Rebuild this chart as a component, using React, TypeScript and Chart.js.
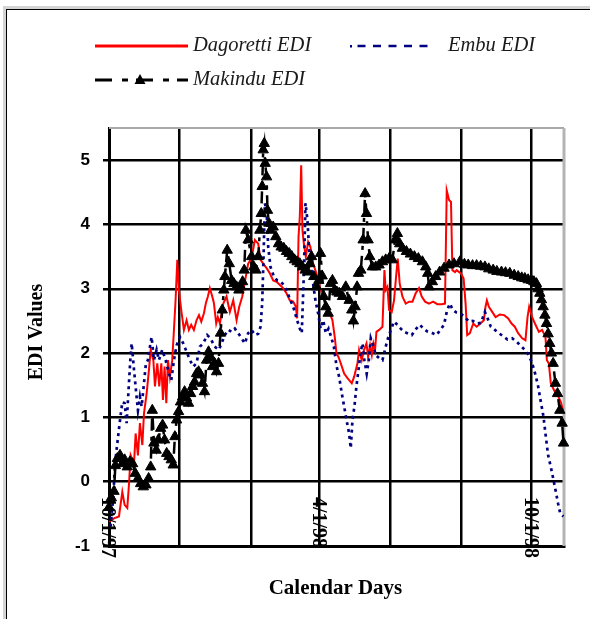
import React, { useEffect, useRef } from 'react';
import { Chart, registerables } from 'chart.js';

Chart.register(...registerables);

// ---- Data (days after 10/1/97, EDI value) ----
const dagorettiDays = [0, 4.3, 8.6, 11.5, 13.5, 15.8, 17.3, 18.7, 21.6, 23, 25, 26.7, 28.8, 30.2, 32.5, 34.5, 36, 38.3, 39.7, 41.7, 43.4, 45.2, 46.6, 48, 49.5, 50.9, 52.6, 54.6, 56.1, 57.5, 59, 60.4, 62.4, 64.7, 67, 69, 71, 73.3, 75.6, 77.7, 79.7, 82, 83.7, 85.4, 87.1, 89.2, 90.6, 92.6, 94, 95.8, 98.7, 101.5, 104.4, 107.3, 110.2, 112.5, 115.1, 117.4, 120.2, 123.1, 126, 128.9, 130.9, 133.2, 136.1, 138.9, 141.8, 144.7, 147.6, 150.4, 153.3, 156.2, 159.1, 161.4, 162.5, 163.7, 164.8, 166, 167.1, 168.3, 170, 172, 174, 176.3, 179.2, 182.1, 185, 187.8, 190.7, 193, 195, 196.5, 198.2, 200.2, 203.1, 206, 209.7, 211.7, 214.6, 216, 218.3, 220.3, 222.4, 223.8, 225.5, 227, 228.4, 229.8, 231, 233.3, 236.2, 237.9, 239, 240.5, 241.9, 244.2, 246.2, 248.2, 249.4, 251.1, 253.4, 256.3, 259.2, 262.1, 264.9, 267.8, 270.1, 273, 276.4, 279.9, 283.6, 287.4, 290.2, 291.7, 293.7, 295.4, 296.6, 298.9, 300.2, 304, 306.3, 308, 309.4, 311.7, 314.6, 317.5, 320.9, 323.8, 325.2, 326.4, 328.1, 331, 333.9, 337.6, 341.3, 344.8, 347.7, 350.5, 353.4, 356.9, 359.7, 361.5, 362.9, 365.5, 368.4, 371.3, 374.1, 377, 378.2, 379.9, 381.6, 384.5, 387.4, 390.2, 392.5];
const dagorettiValues = [-0.62, -0.57, -0.54, -0.16, -0.36, -0.41, -0.03, 0.41, 0.28, 0.75, 0.41, 0.91, 0.57, 1.06, 1.37, 1.74, 2.05, 1.89, 1.48, 1.84, 1.48, 1.84, 1.27, 1.79, 1.22, 1.89, 1.63, 1.89, 2.36, 2.82, 3.45, 2.98, 2.67, 2.36, 2.51, 2.36, 2.44, 2.36, 2.51, 2.59, 2.49, 2.62, 2.78, 2.88, 3.01, 2.88, 2.78, 2.46, 2.56, 2.46, 2.77, 2.88, 2.64, 2.82, 2.51, 2.72, 2.88, 3.11, 3.39, 3.47, 3.76, 3.70, 3.45, 3.39, 3.32, 3.24, 3.13, 3.11, 3.06, 3.01, 2.93, 2.82, 2.80, 2.72, 2.54, 3.81, 4.12, 4.92, 3.91, 3.70, 3.50, 3.73, 3.65, 3.39, 3.24, 3.03, 2.88, 2.72, 2.62, 2.51, 2.25, 1.99, 1.94, 1.84, 1.68, 1.61, 1.53, 1.63, 1.84, 2.05, 1.89, 2.05, 2.15, 1.94, 2.12, 1.97, 2.15, 2.05, 2.33, 2.36, 2.41, 3.29, 2.98, 3.03, 2.67, 2.64, 2.82, 3.24, 3.47, 3.08, 2.88, 2.77, 2.80, 2.80, 2.93, 3.01, 2.88, 2.80, 2.77, 2.80, 2.76, 2.76, 2.77, 4.53, 4.38, 4.35, 3.29, 3.26, 3.29, 3.24, 3.16, 2.77, 2.28, 2.31, 2.46, 2.41, 2.46, 2.51, 2.72, 2.82, 2.72, 2.64, 2.56, 2.60, 2.59, 2.54, 2.46, 2.41, 2.31, 2.23, 2.20, 2.56, 2.72, 2.56, 2.44, 2.33, 2.36, 2.25, 1.89, 1.84, 1.53, 1.42, 1.35, 1.24, 1.09];

const embuDays = [1.4, 3.7, 5.2, 7.2, 9.2, 11.5, 13.5, 15.2, 16.7, 18.4, 19.6, 21.6, 23.3, 25, 26.7, 28.2, 30.2, 31.9, 33.6, 35.4, 36.8, 38.8, 41.1, 43.1, 46, 48.9, 51.8, 53.8, 56.1, 58.4, 61.3, 64.1, 67, 69.9, 72.8, 75.6, 78.5, 81.4, 84.8, 87.7, 91.2, 94.9, 97.2, 100.1, 103, 105.9, 108.7, 111.6, 114.5, 117.4, 120.2, 123.1, 126, 128.9, 130.9, 132.3, 133.5, 134.6, 136.1, 137.5, 139.5, 142.4, 145.3, 148.1, 151, 153.9, 156.8, 159.6, 162.5, 164.8, 166.5, 168.3, 169.7, 171.4, 172.9, 174.6, 176.3, 178.3, 180.6, 182.7, 185, 187.3, 189.6, 191.9, 194.2, 196.5, 198.8, 201.1, 203.4, 205.7, 207.4, 208.8, 210.3, 212, 213.7, 215.5, 217.2, 218.9, 220.6, 222.6, 224.4, 226.1, 228.1, 230.4, 233.3, 236.2, 239, 241.3, 243.6, 246.2, 249.1, 252, 254.9, 257.7, 261.5, 264.9, 268.4, 271.8, 275.3, 279.3, 282.8, 286.2, 289.4, 291.7, 294.3, 297.1, 300.2, 304, 307.4, 310.9, 314.3, 317.8, 321.2, 324.7, 327, 329.8, 333.3, 336.7, 340.5, 344.2, 348.2, 352, 355.7, 359.2, 362.6, 365.5, 368.4, 370.7, 373, 375.3, 377.3, 379.3, 381.6, 383.9, 386.2, 387.9, 389.7, 392.5];
const embuValues = [-0.70, -0.23, 0.28, 0.60, 0.91, 1.24, 1.22, 0.91, 1.37, 1.89, 2.15, 1.74, 1.42, 1.11, 1.32, 1.17, 1.53, 1.84, 1.89, 2.10, 2.25, 1.89, 2.05, 1.89, 2.05, 1.89, 1.68, 1.58, 1.89, 2.12, 2.25, 2.15, 2.02, 1.89, 1.79, 1.84, 2.10, 2.15, 2.28, 2.23, 2.10, 2.05, 2.15, 2.28, 2.36, 2.33, 2.38, 2.31, 2.23, 2.15, 2.31, 2.36, 2.28, 2.30, 2.41, 2.77, 3.50, 4.33, 4.22, 3.65, 3.34, 3.19, 3.13, 3.11, 3.06, 2.95, 2.82, 2.69, 2.51, 2.38, 2.31, 3.24, 4.33, 4.07, 3.60, 3.34, 3.08, 2.82, 2.62, 2.38, 2.51, 2.31, 2.38, 2.25, 2.10, 1.80, 1.63, 1.37, 1.14, 0.91, 0.75, 0.52, 0.96, 1.17, 1.48, 1.74, 1.99, 2.15, 1.89, 1.68, 1.89, 2.23, 2.12, 1.97, 1.92, 1.89, 2.10, 2.25, 2.37, 2.49, 2.44, 2.38, 2.33, 2.31, 2.28, 2.37, 2.44, 2.38, 2.33, 2.31, 2.28, 2.36, 2.44, 2.64, 2.77, 2.67, 2.63, 2.61, 2.56, 2.49, 2.50, 2.46, 2.47, 2.64, 2.54, 2.41, 2.36, 2.31, 2.26, 2.21, 2.23, 2.18, 2.11, 2.05, 1.97, 1.84, 1.66, 1.48, 1.24, 1.01, 0.70, 0.41, 0.23, 0.03, -0.18, -0.34, -0.49, -0.54];

const makinduDays = [0, 2, 4.3, 5.5, 7.2, 9.5, 11.5, 13.5, 15.8, 18.1, 20.4, 22.7, 25, 27.3, 29.6, 31.9, 34.2, 36, 37.4, 38.8, 40.8, 42.6, 44.6, 46.3, 48, 49.8, 51.8, 53.8, 55.5, 56.9, 58.4, 60.1, 61.8, 63.6, 65.3, 67, 68.7, 70.5, 72.2, 73.9, 75.6, 77.4, 79.1, 80.8, 82.5, 84.3, 86, 87.7, 89.4, 91.2, 92.9, 94.6, 96.3, 97.8, 99.2, 100.1, 102.1, 103.9, 105.9, 107.9, 110.2, 112.2, 113.9, 115.4, 116.8, 118.2, 120.2, 123.1, 125.1, 126.9, 128.9, 130.3, 131.5, 132.3, 133.2, 134.1, 134.9, 136.1, 136.9, 138.1, 139.5, 141.8, 144.1, 146.4, 148.7, 151, 153.3, 155.6, 157.9, 160.2, 162.5, 164.8, 167.1, 169.4, 171.7, 173.5, 174.9, 176.9, 179.2, 181.2, 182.7, 184.1, 185.5, 187.3, 189.3, 191.3, 193, 195, 196.8, 198.8, 201.7, 204.5, 207.4, 209.7, 211.1, 212.6, 214.3, 215.5, 217.5, 219.5, 221.2, 222.4, 223.8, 225.2, 227.5, 230.4, 233.3, 236.2, 239, 241.9, 244.8, 247.1, 249.1, 251.1, 253.4, 256.9, 260.3, 263.8, 267.2, 270.7, 273.6, 275.3, 276.4, 279.3, 282.2, 285.6, 289.4, 293.7, 298, 303.1, 307, 310.3, 314, 317.5, 321, 324.7, 328, 331.8, 335, 339, 342.5, 346.2, 350, 353.4, 356.5, 359.2, 362, 364.9, 367, 369.2, 370.6, 372.1, 373.5, 375, 376.5, 377.9, 379.3, 380.7, 382.1, 383.6, 385.6, 387.4, 389.4, 391.4, 392.6];
const makinduValues = [-0.40, -0.25, -0.15, 0.25, 0.36, 0.41, 0.28, 0.34, 0.23, 0.31, 0.28, 0.13, 0.05, -0.03, -0.08, -0.05, 0.05, 0.23, 1.11, 0.60, 0.49, 0.65, 0.83, 0.88, 0.65, 0.44, 0.39, 0.34, 0.26, 0.70, 0.96, 1.09, 1.24, 1.32, 1.40, 1.30, 1.22, 1.37, 1.48, 1.55, 1.68, 1.71, 1.66, 1.53, 1.40, 1.89, 2.02, 1.94, 1.79, 1.84, 1.71, 1.84, 2.31, 2.67, 2.98, 3.19, 3.60, 3.39, 3.13, 3.08, 3.03, 2.98, 3.03, 3.11, 3.29, 3.91, 3.76, 3.50, 3.34, 3.29, 3.50, 3.91, 4.17, 4.59, 5.16, 5.26, 4.95, 4.74, 4.22, 4.02, 3.91, 3.96, 3.81, 3.70, 3.65, 3.63, 3.58, 3.55, 3.50, 3.45, 3.42, 3.39, 3.34, 3.29, 3.26, 3.39, 3.50, 3.19, 3.03, 3.13, 3.55, 3.20, 2.88, 2.72, 2.62, 3.08, 3.13, 2.98, 2.95, 2.93, 2.88, 3.03, 2.82, 2.67, 2.50, 2.72, 3.03, 3.24, 3.29, 3.76, 4.48, 4.17, 3.76, 3.50, 3.34, 3.34, 3.37, 3.42, 3.45, 3.47, 3.45, 3.76, 3.86, 3.70, 3.63, 3.58, 3.54, 3.50, 3.47, 3.42, 3.34, 3.24, 3.03, 3.11, 3.19, 3.26, 3.32, 3.37, 3.39, 3.42, 3.38, 3.37, 3.36, 3.36, 3.35, 3.34, 3.31, 3.29, 3.27, 3.26, 3.25, 3.24, 3.21, 3.19, 3.17, 3.16, 3.14, 3.13, 3.11, 3.08, 3.00, 2.93, 2.83, 2.72, 2.59, 2.46, 2.30, 2.15, 2.00, 1.84, 1.53, 1.37, 1.11, 0.91, 0.60];

const seriesNames = ['Dagoretti EDI', 'Embu EDI', 'Makindu EDI'];
const yTickValues = [-1, 0, 1, 2, 3, 4, 5];
const xGridDays = [0, 61, 123, 182, 243, 304, 365];
const xLabelDays = [0, 182, 365];
const xLabelTexts = ['10/1/97', '4/1/98', '10/1/98'];
const xTitle = 'Calendar Days';
const yTitle = 'EDI Values';

const toPoints = (days: number[], vals: number[]) => days.map((d, i) => ({ x: d, y: vals[i] }));

export default function App() {
  const ref = useRef<HTMLCanvasElement>(null);

  useEffect(() => {
    const canvas = ref.current;
    if (!canvas) return;

    const overlay = {
      id: 'overlay',
      beforeDatasetsDraw(chart: any) {
        const { ctx, chartArea } = chart;
        ctx.save();
        ctx.strokeStyle = '#a8a8a8';
        ctx.lineWidth = 2;
        ctx.beginPath();
        ctx.moveTo(chartArea.left, chartArea.top);
        ctx.lineTo(chartArea.right, chartArea.top);
        ctx.stroke();
        ctx.strokeStyle = '#b4b4b4';
        ctx.lineWidth = 3;
        ctx.beginPath();
        ctx.moveTo(chartArea.right, chartArea.top);
        ctx.lineTo(chartArea.right, chartArea.bottom);
        ctx.stroke();
        ctx.restore();
      },
      afterDraw(chart: any) {
        const { ctx, chartArea, scales } = chart;
        ctx.save();
        // outer frame
        ctx.fillStyle = '#d4d4d4';
        ctx.fillRect(3, 6, 3, 613);
        ctx.fillRect(3, 6, 587, 3);
        ctx.fillStyle = '#000';
        ctx.fillRect(6, 9, 1, 610);
        ctx.fillRect(6, 9, 584, 1);

        // x tick labels (rotated clockwise)
        ctx.fillStyle = '#000';
        ctx.font = 'bold 20px "Liberation Serif"';
        ctx.textAlign = 'left';
        ctx.textBaseline = 'alphabetic';
        xLabelDays.forEach((d, i) => {
          const x = scales.x.getPixelForValue(d);
          ctx.save();
          ctx.translate(x - 7, 497);
          ctx.rotate(Math.PI / 2);
          ctx.fillText(xLabelTexts[i], 0, 0);
          ctx.restore();
        });

        // axis titles
        ctx.font = 'bold 21px "Liberation Serif"';
        ctx.textAlign = 'center';
        ctx.textBaseline = 'alphabetic';
        ctx.fillText(xTitle, (chartArea.left + chartArea.right) / 2 - 1, 594);
        ctx.save();
        ctx.translate(42, 332);
        ctx.rotate(-Math.PI / 2);
        ctx.font = 'bold 20px "Liberation Serif"';
        ctx.fillText(yTitle, 0, 0);
        ctx.restore();

        // legend
        ctx.textAlign = 'left';
        ctx.font = 'italic 20.5px "Liberation Serif"';
        // Dagoretti
        ctx.strokeStyle = '#ff0000';
        ctx.lineWidth = 3;
        ctx.setLineDash([]);
        ctx.beginPath();
        ctx.moveTo(95, 46);
        ctx.lineTo(188, 46);
        ctx.stroke();
        ctx.fillStyle = '#1a1a1a';
        ctx.fillText(seriesNames[0], 193, 51);
        // Embu
        ctx.strokeStyle = '#000080';
        ctx.lineWidth = 2.5;
        ctx.setLineDash([8, 7.5]);
        ctx.beginPath();
        ctx.moveTo(357.5, 46);
        ctx.lineTo(433, 46);
        ctx.stroke();
        ctx.setLineDash([]);
        ctx.fillStyle = '#000080';
        ctx.fillRect(350, 45, 2, 2.5);
        ctx.fillStyle = '#1a1a1a';
        ctx.fillText(seriesNames[1], 448, 51);
        // Makindu
        ctx.strokeStyle = '#000';
        ctx.lineWidth = 3;
        ctx.setLineDash([17, 10, 6, 8]);
        ctx.beginPath();
        ctx.moveTo(95, 80);
        ctx.lineTo(188, 80);
        ctx.stroke();
        ctx.setLineDash([]);
        ctx.fillStyle = '#000';
        ctx.beginPath();
        ctx.moveTo(140, 74);
        ctx.lineTo(145.5, 84);
        ctx.lineTo(134.5, 84);
        ctx.closePath();
        ctx.fill();
        ctx.fillStyle = '#1a1a1a';
        ctx.fillText(seriesNames[2], 193, 85);
        ctx.restore();
      },
    };

    const chart = new Chart(canvas, {
      type: 'line',
      data: {
        datasets: [
          {
            label: seriesNames[2],
            data: toPoints(makinduDays, makinduValues),
            borderColor: '#000',
            borderWidth: 2.5,
            borderDash: [12, 6, 4, 6],
            pointStyle: 'triangle',
            pointRadius: 6,
            pointBackgroundColor: '#000',
            pointBorderColor: '#000',
            pointBorderWidth: 1,
            tension: 0,
            clip: 10,
          },
          {
            label: seriesNames[1],
            data: toPoints(embuDays, embuValues),
            borderColor: '#000080',
            borderWidth: 2.7,
            borderDash: [3, 4],
            pointRadius: 0,
            tension: 0,
          },
          {
            label: seriesNames[0],
            data: toPoints(dagorettiDays, dagorettiValues),
            borderColor: '#ff0000',
            borderWidth: 2,
            pointRadius: 0,
            tension: 0,
          },
        ],
      },
      options: {
        animation: false,
        responsive: false,
        devicePixelRatio: 1,
        events: [],
        layout: { padding: { top: 128, right: 26, left: 0, bottom: 0 } },
        plugins: { legend: { display: false }, tooltip: { enabled: false }, title: { display: false } },
        scales: {
          x: {
            type: 'linear',
            min: 0,
            max: 393,
            afterBuildTicks: (s: any) => {
              s.ticks = xGridDays.map((v) => ({ value: v }));
            },
            afterFit: (s: any) => {
              s.height = 73;
            },
            ticks: { display: false },
            grid: { color: '#000', lineWidth: 2.5, drawTicks: false },
            border: { color: '#000', width: 3 },
          },
          y: {
            type: 'linear',
            min: -1,
            max: 5.5,
            afterBuildTicks: (s: any) => {
              s.ticks = yTickValues.map((v) => ({ value: v }));
            },
            afterFit: (s: any) => {
              s.width = 109;
            },
            ticks: {
              color: '#000',
              padding: 13,
              font: { family: '"Liberation Sans"', size: 17, weight: 'bold' },
            },
            grid: { color: '#000', lineWidth: 2.5, drawTicks: true, tickLength: 6 },
            border: { color: '#000', width: 3 },
          },
        },
      },
      plugins: [overlay],
    });

    return () => chart.destroy();
  }, []);

  return (
    <div style={{ position: 'absolute', left: 0, top: 0, width: 590, height: 619, background: '#fff' }}>
      <canvas ref={ref} width={590} height={619} style={{ display: 'block', width: 590, height: 619 }} />
    </div>
  );
}
